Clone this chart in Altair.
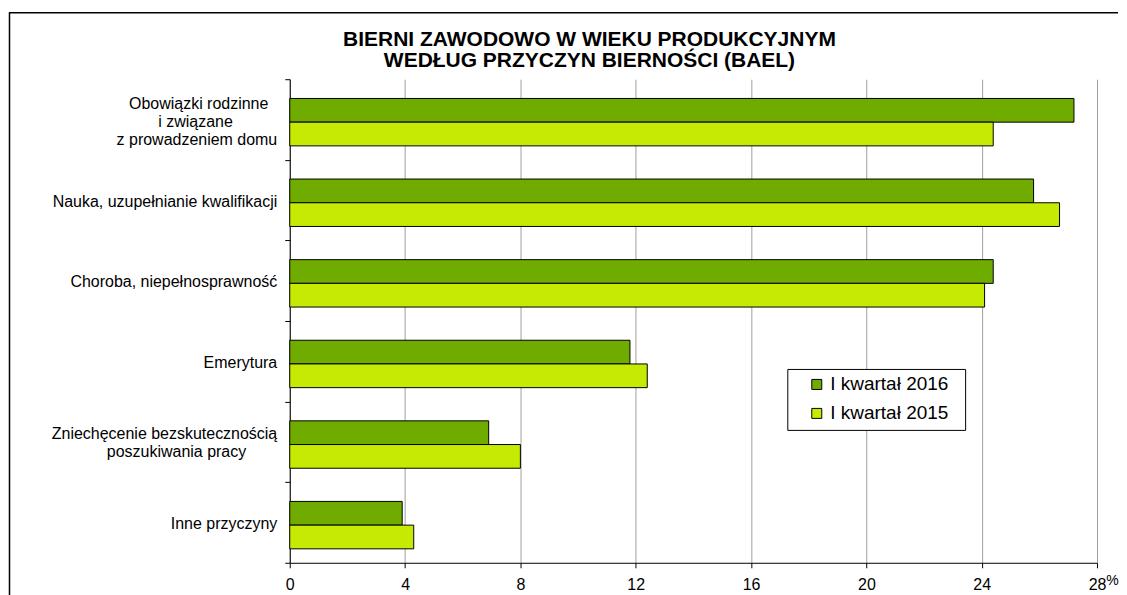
import altair as alt
import pandas as pd

FONT = "Liberation Sans"
NB = "\u00a0"  # non-breaking space, used to centre the lines of wrapped labels
ZW = "\u200b"  # zero-width end marker so the padding is kept

categories = [
    "Obowiązki rodzinne" + NB * 2 + ZW + "|i związane" + NB * 10 + ZW + "|z prowadzeniem domu",
    "Nauka, uzupełnianie kwalifikacji",
    "Choroba, niepełnosprawność",
    "Emerytura",
    "Zniechęcenie bezskutecznością|poszukiwania pracy" + NB * 7 + ZW,
    "Inne przyczyny",
]
series = ["I kwartał 2016", "I kwartał 2015"]
values_2016 = [27.2, 25.8, 24.4, 11.8, 6.9, 3.9]
values_2015 = [24.4, 26.7, 24.1, 12.4, 8.0, 4.3]
x_ticks = [0, 4, 8, 12, 16, 20, 24, 28]
colors = ["#70AC00", "#C6EA04"]
title_lines = ["BIERNI ZAWODOWO W WIEKU PRODUKCYJNYM", "WEDŁUG PRZYCZYN BIERNOŚCI (BAEL)"]

rows = []
for c, a, b in zip(categories, values_2016, values_2015):
    rows.append({"category": c, "series": series[0], "value": a})
    rows.append({"category": c, "series": series[1], "value": b})
df = pd.DataFrame(rows)

# vertical centring of multi-line category labels
label_offset = {
    "condition": [
        {"test": "length(split(datum.value, '|')) == 3", "value": -16},
        {"test": "length(split(datum.value, '|')) == 2", "value": -8},
    ],
    "value": 1,
}

bars = alt.Chart(df).mark_bar(stroke="black", strokeWidth=1).encode(
    y=alt.Y(
        "category:N",
        sort=categories,
        scale=alt.Scale(paddingInner=0, paddingOuter=0),
        axis=alt.Axis(
            title=None,
            labelExpr="split(datum.label, '|')",
            labelFont=FONT,
            labelFontSize=16,
            labelColor="black",
            labelLineHeight=18,
            labelLimit=400,
            labelPadding=8,
            labelOffset=label_offset,
            tickBand="extent",
            tickSize=5,
            tickColor="black",
            domainColor="black",
            grid=False,
        ),
    ),
    yOffset=alt.YOffset(
        "series:N",
        sort=series,
        scale=alt.Scale(paddingInner=0, paddingOuter=0.70, align=0.58),
    ),
    x=alt.X(
        "value:Q",
        scale=alt.Scale(domain=[0, 28], nice=False),
        axis=alt.Axis(
            values=x_ticks,
            title="%",
            titleFont=FONT,
            titleFontSize=14,
            titleFontWeight="normal",
            titleColor="black",
            titleX=823,
            titleY=18,
            titleAlign="center",
            titleBaseline="middle",
            labelFont=FONT,
            labelFontSize=16,
            labelColor="black",
            labelPadding=9,
            labelFlush=False,
            labelOverlap=False,
            grid=True,
            gridColor="#A0A0A0",
            gridWidth=1,
            tickSize=5,
            tickColor="black",
            domainColor="black",
        ),
    ),
    color=alt.Color(
        "series:N",
        sort=series,
        scale=alt.Scale(domain=series, range=colors),
        legend=alt.Legend(
            title=None,
            orient="none",
            legendX=498,
            legendY=290,
            direction="vertical",
            fillColor="white",
            strokeColor="black",
            padding=6,
            rowPadding=9,
            symbolType="square",
            symbolSize=100,
            symbolStrokeColor="black",
            symbolStrokeWidth=1,
            symbolOpacity=1,
            symbolOffset=14,
            labelOffset=4,
            labelFont=FONT,
            labelFontSize=19,
            labelColor="black",
            labelExpr="datum.label + '" + NB * 2 + ZW + "'",
        ),
    ),
)

frame_data = alt.Data(values=[{"k": 1}])
frame_top = alt.Chart(frame_data).mark_rule(color="black", strokeWidth=1.5).encode(
    x=alt.value(-281),
    x2=alt.value(829),
    y=alt.value(-66.5),
)
frame_left = alt.Chart(frame_data).mark_rule(color="black", strokeWidth=1.5).encode(
    x=alt.value(-280.5),
    y=alt.value(-67),
    y2=alt.value(530),
)

chart = alt.layer(bars, frame_top, frame_left).properties(
    width=808,
    height=484,
    padding={"left": 0, "top": 3, "right": 0, "bottom": 0},
    title=alt.TitleParams(
        text=title_lines,
        font=FONT,
        fontSize=21,
        fontWeight="bold",
        color="black",
        anchor="middle",
        frame="group",
        dx=-104,
        dy=88,
        offset=7,
        lineHeight=21,
        baseline="bottom",
    ),
).configure(background="white").configure_view(stroke="transparent")

chart.save("out.html", embed_options={"renderer": "svg", "actions": False})
